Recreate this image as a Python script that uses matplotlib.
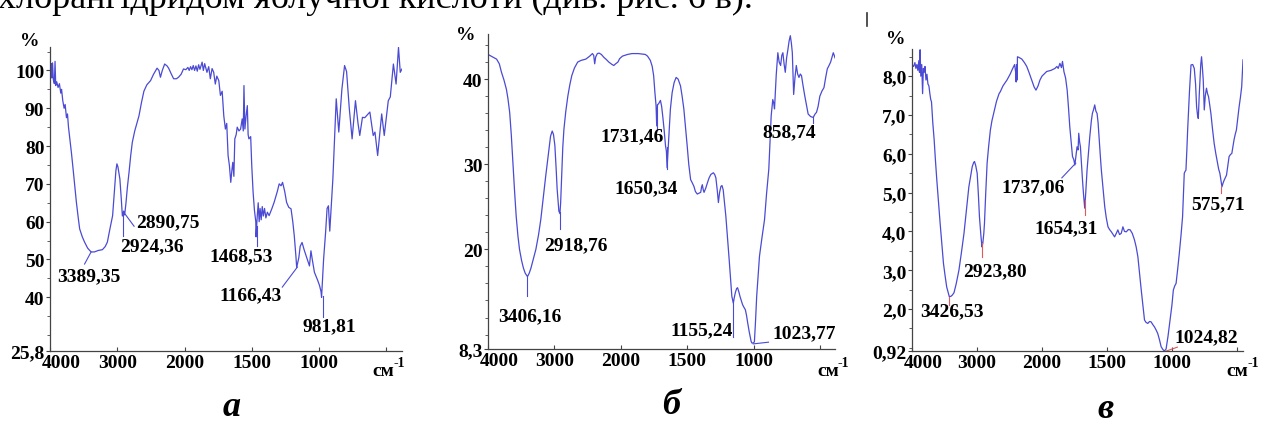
import numpy as np
import matplotlib
matplotlib.use('Agg')
import matplotlib.pyplot as plt
from matplotlib.ticker import MultipleLocator
from matplotlib.lines import Line2D

plt.rcParams['font.family'] = ['Liberation Serif', 'DejaVu Serif']
plt.rcParams['mathtext.fontset'] = 'stix'

# ---------------- data: panel a ----------------
wave_a = [4000, 3990, 3980, 3972, 3962, 3950, 3935, 3925, 3915, 3900,
          3880, 3860, 3840, 3828, 3810, 3790, 3775, 3755, 3740, 3725,
          3706, 3680, 3657, 3630, 3608, 3580, 3559, 3520, 3486, 3440,
          3389, 3340, 3280, 3221, 3180, 3147, 3110, 3069, 3040, 3020,
          3005, 2990, 2961, 2940, 2924, 2905, 2890, 2870, 2850, 2824,
          2800, 2776, 2740, 2700, 2677, 2640, 2604, 2560, 2505, 2460,
          2408, 2380, 2358, 2330, 2295, 2260, 2236, 2200, 2162, 2120,
          2089, 2050, 2015, 1990, 1975, 1965, 1955, 1945, 1935, 1925,
          1915, 1905, 1895, 1885, 1869, 1860, 1850, 1833, 1820, 1808,
          1795, 1783, 1771, 1760, 1745, 1733, 1720, 1708, 1696, 1686,
          1676, 1666, 1656, 1648, 1641, 1633, 1626, 1616, 1608, 1595,
          1583, 1571, 1563, 1558, 1551, 1542, 1533, 1527, 1521, 1508,
          1500, 1490, 1480, 1470, 1468, 1460, 1452, 1445, 1438, 1430,
          1422, 1414, 1405, 1395, 1384, 1371, 1350, 1333, 1310, 1296,
          1282, 1271, 1255, 1241, 1225, 1208, 1195, 1184, 1172, 1166,
          1150, 1140, 1126, 1110, 1096, 1080, 1071, 1060, 1050, 1034,
          1010, 996, 985, 981, 966, 951, 940, 930, 920, 909,
          897, 872, 853, 830, 810, 795, 775, 754, 729, 710,
          697, 677, 660, 635, 622, 597, 584, 564, 534, 515,
          485, 470, 447, 427, 409, 396, 383]
trans_a = [100.4, 99.5, 101.8, 98.0, 102.0, 97.5, 96.5, 102.4, 96.0, 97.0,
           95.5, 96.5, 94.0, 95.0, 92.0, 90.0, 91.0, 87.5, 88.5, 85.0,
           82.0, 78.0, 74.0, 69.0, 65.2, 61.0, 58.1, 56.0, 54.6, 53.0,
           52.0, 52.0, 52.4, 52.6, 53.4, 54.6, 58.0, 61.6, 68.5, 73.5,
           75.3, 74.5, 71.3, 66.0, 61.5, 62.8, 61.8, 65.0, 69.0, 73.2,
           77.5, 81.0, 84.0, 86.5, 88.0, 91.5, 94.5, 96.2, 97.3, 99.0,
           100.6, 100.0, 98.2, 100.0, 101.7, 101.2, 100.6, 99.2, 97.8, 97.8,
           98.2, 99.0, 100.4, 100.2, 100.8, 100.0, 101.0, 100.2, 101.3, 100.0,
           101.2, 99.8, 101.5, 100.3, 102.2, 100.0, 101.8, 99.5, 101.0, 97.8,
           100.5, 99.5, 96.4, 98.5, 97.3, 93.4, 94.5, 88.0, 84.5, 86.0,
           77.5, 74.8, 70.4, 73.5, 75.7, 72.0, 81.9, 83.0, 85.0, 84.0,
           84.5, 87.2, 84.0, 96.0, 84.5, 88.0, 90.7, 83.0, 81.9, 82.5,
           74.8, 67.8, 63.0, 60.0, 56.0, 61.0, 65.0, 60.0, 63.5, 60.5,
           64.0, 61.5, 63.5, 61.0, 62.5, 61.6, 63.5, 65.2, 68.0, 70.0,
           69.5, 70.4, 68.0, 65.1, 63.8, 63.4, 60.0, 56.3, 51.0, 47.9,
           50.5, 53.5, 54.5, 52.5, 51.0, 49.3, 48.3, 52.3, 50.0, 46.6,
           44.5, 43.1, 41.5, 40.0, 50.0, 57.2, 63.5, 64.2, 57.5, 64.0,
           71.3, 92.5, 83.7, 95.0, 101.3, 99.7, 90.0, 81.9, 92.0, 86.0,
           82.8, 87.6, 87.5, 88.5, 89.0, 82.8, 83.7, 77.5, 88.5, 82.8,
           92.0, 93.0, 101.7, 96.4, 106.1, 99.5, 100.4]

# ---------------- data: panel б ----------------
wave_b = [4000, 3871, 3830, 3797, 3760, 3723, 3700, 3674, 3650, 3626,
          3600, 3576, 3550, 3526, 3495, 3467, 3440, 3406, 3380, 3354,
          3320, 3280, 3240, 3206, 3170, 3132, 3095, 3059, 3034, 3015,
          2994, 2975, 2960, 2945, 2934, 2918, 2907, 2890, 2875, 2858,
          2830, 2799, 2770, 2740, 2700, 2651, 2600, 2528, 2470, 2429,
          2410, 2395, 2380, 2355, 2330, 2295, 2256, 2220, 2182, 2140,
          2108, 2080, 2046, 2020, 1989, 1950, 1918, 1870, 1817, 1800,
          1779, 1765, 1754, 1745, 1736, 1731, 1725, 1717, 1703, 1694,
          1686, 1675, 1665, 1658, 1653, 1646, 1640, 1628, 1615, 1600,
          1585, 1570, 1552, 1540, 1527, 1515, 1502, 1490, 1476, 1463,
          1451, 1440, 1426, 1413, 1400, 1394, 1388, 1381, 1375, 1362,
          1350, 1337, 1324, 1305, 1295, 1286, 1276, 1267, 1258, 1248,
          1240, 1231, 1221, 1211, 1198, 1186, 1176, 1166, 1155, 1148,
          1140, 1130, 1123, 1113, 1105, 1095, 1085, 1075, 1064, 1055,
          1047, 1035, 1021, 1015, 1009, 1000, 996, 988, 979, 968,
          958, 940, 920, 905, 888, 878, 870, 858, 851, 845,
          832, 820, 810, 799, 790, 782, 773, 764, 754, 744,
          735, 726, 718, 711, 706, 701, 691, 681, 671, 661,
          651, 642, 630, 617, 605, 592, 573, 554, 540, 529,
          517, 504, 488, 473, 460, 448, 435, 423, 410, 403,
          396, 390]
trans_b = [42.9, 42.35, 41.8, 40.8, 39.9, 38.8, 37.7, 36.1, 33.5, 30.2,
           26.8, 23.9, 21.6, 20.0, 18.7, 17.8, 17.2, 16.8, 17.2, 17.8,
           18.8, 20.0, 21.7, 23.5, 26.0, 28.6, 31.0, 33.3, 33.9, 33.5,
           32.2, 29.5, 27.1, 25.5, 24.5, 24.2, 25.5, 29.0, 32.0, 34.1,
           36.2, 38.0, 39.3, 40.4, 41.3, 42.0, 42.2, 42.35, 42.7, 43.0,
           42.8, 41.8, 42.6, 43.0, 43.06, 42.9, 42.55, 42.3, 42.0, 41.75,
           41.6, 41.8, 42.0, 42.4, 42.7, 42.9, 43.0, 43.0, 42.9, 42.7,
           42.2, 41.5, 40.4, 38.5, 36.9, 34.5, 37.0, 37.1, 37.5, 36.8,
           35.7, 34.0, 32.2, 31.5, 29.6, 31.5, 33.3, 36.5, 38.4, 39.6,
           40.2, 40.0, 39.2, 38.0, 36.5, 34.5, 32.2, 30.0, 28.2, 27.8,
           27.4, 26.8, 26.5, 26.6, 26.7, 27.3, 27.6, 27.0, 26.7, 27.2,
           27.8, 28.4, 28.8, 29.0, 28.8, 28.4, 27.0, 25.5, 26.7, 27.4,
           27.5, 27.0, 25.5, 23.9, 21.3, 18.8, 16.6, 14.5, 13.7, 14.3,
           14.9, 15.4, 15.5, 15.0, 14.5, 14.0, 13.5, 13.2, 12.9, 12.2,
           11.4, 10.3, 9.2, 9.0, 9.0, 9.05, 9.2, 11.5, 14.5, 17.0,
           19.2, 21.3, 23.5, 26.5, 29.4, 33.0, 35.7, 37.6, 37.2, 36.5,
           40.5, 43.1, 42.0, 41.6, 42.8, 43.1, 41.8, 40.8, 42.5, 43.5,
           44.5, 45.1, 44.2, 43.1, 40.5, 38.2, 40.2, 41.6, 40.6, 40.2,
           40.6, 40.4, 39.2, 38.0, 37.0, 35.9, 35.6, 35.5, 35.9, 36.1,
           36.8, 38.0, 38.6, 39.0, 40.2, 41.2, 41.6, 42.0, 42.7, 43.1,
           42.8, 42.5]

# ---------------- data: panel в ----------------
wave_c = [4000, 3975, 3955, 3940, 3925, 3910, 3895, 3885, 3875, 3865,
          3850, 3837, 3825, 3812, 3800, 3785, 3770, 3755, 3740, 3725,
          3712, 3700, 3680, 3659, 3640, 3618, 3590, 3567, 3540, 3516,
          3490, 3466, 3440, 3426, 3400, 3380, 3354, 3320, 3278, 3240,
          3200, 3160, 3125, 3095, 3073, 3050, 3038, 3020, 2997, 2980,
          2962, 2940, 2923, 2910, 2895, 2885, 2865, 2844, 2820, 2794,
          2770, 2743, 2700, 2660, 2641, 2600, 2539, 2490, 2450, 2420,
          2405, 2397, 2390, 2382, 2377, 2350, 2310, 2270, 2234, 2200,
          2158, 2120, 2092, 2060, 2031, 2000, 1964, 1930, 1900, 1885,
          1875, 1862, 1850, 1842, 1831, 1818, 1806, 1796, 1786, 1775,
          1765, 1755, 1747, 1740, 1730, 1722, 1717, 1710, 1704, 1695,
          1688, 1680, 1671, 1663, 1653, 1643, 1632, 1620, 1612, 1602,
          1594, 1585, 1576, 1568, 1561, 1552, 1543, 1530, 1517, 1505,
          1492, 1480, 1466, 1453, 1441, 1428, 1416, 1403, 1390, 1377,
          1365, 1351, 1335, 1321, 1305, 1288, 1275, 1262, 1250, 1236,
          1222, 1211, 1200, 1186, 1172, 1160, 1147, 1134, 1120, 1109,
          1095, 1083, 1070, 1058, 1045, 1030, 1014, 1000, 989, 978,
          968, 955, 943, 930, 918, 910, 905, 898, 892, 885,
          879, 865, 853, 840, 828, 818, 810, 803, 797, 790,
          784, 778, 772, 765, 759, 755, 751, 743, 734, 726,
          718, 709, 700, 688, 675, 662, 649, 640, 631, 622,
          615, 606, 598, 590, 580, 570, 560, 550, 539, 530,
          522, 513, 504, 494, 483, 473, 463, 458, 453]
trans_c = [8.29, 8.25, 8.35, 8.2, 8.3, 8.15, 8.4, 8.1, 8.68, 8.0,
           8.3, 7.55, 8.2, 8.1, 8.25, 7.9, 8.05, 7.8, 7.75, 7.55,
           7.4, 7.34, 6.8, 6.36, 5.85, 5.32, 4.7, 4.21, 3.65, 3.18,
           2.85, 2.57, 2.4, 2.32, 2.33, 2.36, 2.42, 2.65, 3.0, 3.45,
           3.95, 4.6, 5.15, 5.45, 5.67, 5.78, 5.8, 5.7, 5.5, 5.0,
           4.38, 3.9, 3.6, 3.7, 3.95, 4.2, 5.0, 5.76, 6.2, 6.61,
           6.85, 7.04, 7.35, 7.55, 7.6, 7.75, 7.9, 8.05, 8.2, 8.3,
           8.1, 7.85, 8.3, 7.9, 8.5, 8.48, 8.44, 8.35, 8.25, 8.1,
           7.9, 7.72, 7.64, 7.75, 7.9, 8.0, 8.12, 8.15, 8.2, 8.25,
           8.2, 8.33, 8.22, 8.38, 8.12, 7.95, 7.64, 7.2, 6.7, 6.3,
           5.93, 5.85, 5.71, 5.9, 6.18, 6.1, 6.53, 6.3, 6.18, 5.7,
           5.32, 4.95, 4.6, 5.0, 5.58, 6.0, 6.44, 6.85, 7.04, 7.15,
           7.26, 7.1, 7.04, 6.8, 6.44, 6.0, 5.58, 5.1, 4.64, 4.35,
           4.12, 4.05, 3.99, 3.92, 3.86, 3.95, 4.04, 3.92, 3.95, 4.12,
           4.0, 3.99, 4.05, 4.04, 3.95, 3.78, 3.6, 3.35, 2.95, 2.49,
           2.05, 1.72, 1.66, 1.63, 1.68, 1.67, 1.6, 1.54, 1.45, 1.37,
           1.2, 1.03, 0.96, 0.92, 0.97, 1.3, 1.72, 2.1, 2.49, 2.6,
           2.66, 3.05, 3.44, 3.9, 4.38, 5.1, 5.5, 5.55, 5.58, 6.1,
           6.61, 7.6, 8.29, 8.3, 8.2, 7.8, 7.21, 7.0, 6.91, 7.5,
           7.9, 8.3, 8.5, 8.2, 7.9, 7.5, 7.13, 7.5, 7.69, 7.55,
           7.47, 7.25, 7.04, 6.65, 6.27, 6.0, 5.76, 5.6, 5.5, 5.3,
           5.15, 5.25, 5.32, 5.38, 5.45, 5.7, 5.93, 5.98, 6.01, 6.2,
           6.36, 6.5, 6.61, 6.9, 7.21, 7.45, 7.73, 8.1, 8.42]

# axis ticks / labels
xticks = [4000, 3000, 2000, 1500, 1000, 500]
xtick_labels = ['', '3000', '2000', '1500', '1000', '']
yticks_a = [25.8, 40, 50, 60, 70, 80, 90, 100]
ylabels_a = ['25,8', '40', '50', '60', '70', '80', '90', '100']
yticks_b = [8.3, 20, 30, 40]
ylabels_b = ['8,3', '20', '30', '40']
yticks_c = [0.92, 2, 3, 4, 5, 6, 7, 8]
ylabels_c = ['0,92', '2,0', '3,0', '4,0', '5,0', '6,0', '7,0', '8,0']
panel_letters = ['а', 'б', 'в']
caption_line = 'хлорангідридом яблучної кислоти (див. рис. 6 в).'

# peak annotations: (label, text x, text y, leader x0, y0, x1, y1, colour)
LINE = '#4a4ad4'
RED = '#e05a5a'
peaks_a = [('3389,35', 3427, 45.6, 3486, 48.8, 3389, 52.0, LINE),
           ('2924,36', 2486, 53.6, 2912, 56.2, 2912, 62.0, LINE),
           ('2890,75', 2251, 59.9, 2750, 58.8, 2883, 62.0, LINE),
           ('1468,53', 1581, 50.9, 1461, 53.6, 1461, 58.8, LINE),
           ('1166,43', 1506, 40.6, 1273, 42.7, 1161, 48.0, LINE),
           ('981,81', 921, 32.4, 974, 34.8, 974, 40.3, LINE)]
peaks_b = [('3406,16', 3364, 12.24, 3408, 14.5, 3408, 16.8, LINE),
           ('2918,76', 2683, 20.6, 2920, 22.35, 2920, 24.4, LINE),
           ('1731,46', 1913, 33.4, 1731, 34.1, 1731, 36.5, LINE),
           ('1650,34', 1807, 27.3, 1655, 29.4, 1655, 32.0, LINE),
           ('858,74', 731, 33.8, 553, 34.9, 553, 35.6, LINE),
           ('1155,24', 1390, 10.6, 1155, 9.76, 1155, 14.1, LINE),
           ('1023,77', 625, 10.24, 1005, 8.9, 890, 9.1, LINE)]
peaks_c = [('3426,53', 3389, 1.95, 3435, 2.1, 3435, 2.31, RED),
           ('2923,80', 2717, 3.0, 2916, 3.34, 2916, 3.7, RED),
           ('1737,06', 2137, 5.14, 1847, 5.38, 1740, 5.76, LINE),
           ('1654,31', 1816, 4.09, 1671, 4.42, 1671, 4.81, RED),
           ('575,71', 644, 4.71, 621, 4.99, 621, 5.14, RED),
           ('1024,82', 736, 1.30, 1042, 0.92, 958, 1.02, RED)]


def fwd(w):
    w = np.asarray(w, dtype=float)
    return np.where(w >= 2000, w, 2 * w - 2000)


def inv(u):
    u = np.asarray(u, dtype=float)
    return np.where(u >= 2000, u, (u + 2000) / 2)


W, H = 1261, 435
fig = plt.figure(figsize=(W / 100, H / 100), dpi=100)


def rect(l, t, r, b):
    return [l / W, 1 - b / H, (r - l) / W, (b - t) / H]


panels = [
    dict(r=rect(50, 48, 402, 352), x=wave_a, y=trans_a, xlim=(4000, 383), ylim=(25.8, 106.2),
         yt=yticks_a, yl=ylabels_a, minor=5, peaks=peaks_a),
    dict(r=rect(488, 35, 835, 350), x=wave_b, y=trans_b, xlim=(4000, 390), ylim=(8.3, 45.3),
         yt=yticks_b, yl=ylabels_b, minor=2, peaks=peaks_b),
    dict(r=rect(912, 50, 1243, 352), x=wave_c, y=trans_c, xlim=(4000, 453), ylim=(0.92, 8.7),
         yt=yticks_c, yl=ylabels_c, minor=0.5, peaks=peaks_c),
]

for p in panels:
    ax = fig.add_axes(p['r'])
    ax.set_xscale('function', functions=(fwd, inv))
    ax.plot(p['x'], p['y'], color=LINE, lw=0.9)
    ax.set_xlim(*p['xlim'])
    ax.set_ylim(*p['ylim'])
    for s in ('top', 'right'):
        ax.spines[s].set_visible(False)
    for s in ('left', 'bottom'):
        ax.spines[s].set_color('#444444')
        ax.spines[s].set_linewidth(0.9)
    ax.set_xticks(xticks)
    ax.set_xticklabels(xtick_labels, fontsize=14, fontweight='bold')
    ax.xaxis.set_minor_locator(plt.NullLocator())
    ax.tick_params(axis='x', direction='in', length=3, pad=2, color='#444444')
    ax.annotate('4000', xy=(4000, 0), xycoords=('data', 'axes fraction'),
                xytext=(8, -2), textcoords='offset points', ha='center', va='top',
                fontsize=14, fontweight='bold')
    ax.set_yticks(p['yt'])
    ax.set_yticklabels(p['yl'], fontsize=14, fontweight='bold')
    ax.yaxis.set_minor_locator(MultipleLocator(p['minor']))
    ax.tick_params(axis='y', which='major', direction='out', length=3, pad=1, color='#444444')
    ax.tick_params(axis='y', which='minor', direction='out', length=2, color='#444444')
    for lab, tx, ty, x0, y0, x1, y1, col in p['peaks']:
        ax.text(tx, ty, lab, ha='center', va='center', fontsize=14, fontweight='bold')
        ax.plot([x0, x1], [y0, y1], color=col, lw=0.8, clip_on=False)


def ftext(x, y, s, **kw):
    fig.text(x / W, 1 - y / H, s, **kw)


for x, y in [(30, 41), (466, 36), (896, 40)]:
    ftext(x, y, '%', ha='center', va='center', fontsize=14, fontweight='bold')
for x in [372, 817, 1226]:
    ftext(x, 376, 'см', ha='left', va='baseline', fontsize=14, fontweight='bold')
    ftext(x + 21, 367, '-1', ha='left', va='baseline', fontsize=10, fontweight='bold')
for (x, y), s in zip([(232, 408), (671, 406), (1105, 410)], panel_letters):
    ftext(x, y, s, ha='center', va='center', fontsize=26, fontweight='bold', fontstyle='italic')

ftext(-2, 8, caption_line, ha='left', va='baseline', fontsize=26)
fig.add_artist(Line2D([867 / W, 867 / W], [1 - 14 / H, 1 - 27 / H], color='#333333', lw=1.2))

fig.savefig('out.png', dpi=100)
